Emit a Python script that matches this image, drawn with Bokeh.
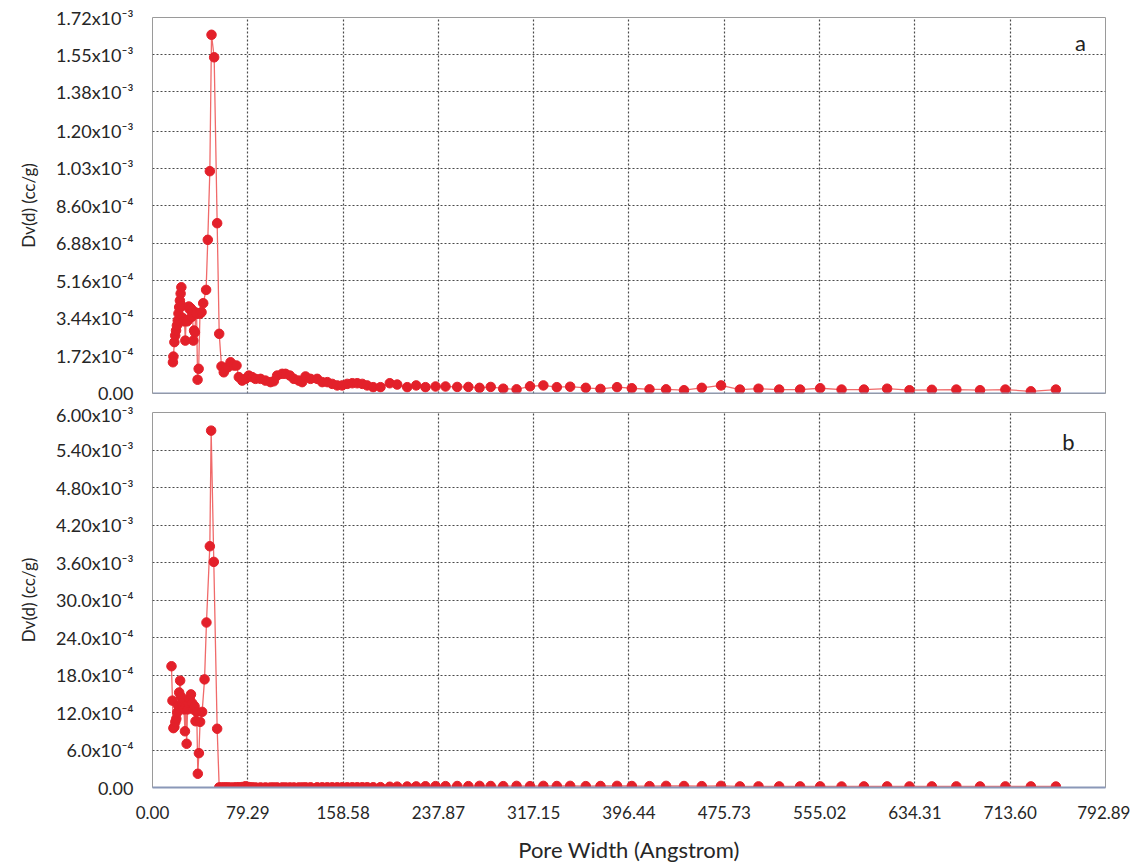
from bokeh.plotting import figure
from bokeh.layouts import column
from bokeh.models import Range1d, FixedTicker, Span, Label
from bokeh.embed import file_html
from bokeh.resources import INLINE

# ---------------- data ----------------
x_ticks = [0.00, 79.29, 158.58, 237.87, 317.15, 396.44, 475.73, 555.02, 634.31, 713.60, 792.89]
x_tick_labels = ["0.00", "79.29", "158.58", "237.87", "317.15", "396.44",
                 "475.73", "555.02", "634.31", "713.60", "792.89"]

a_y_ticks = [0.0, 1.72e-4, 3.44e-4, 5.16e-4, 6.88e-4, 8.60e-4, 1.03e-3, 1.20e-3, 1.38e-3, 1.55e-3, 1.72e-3]
a_y_tick_labels = ["0.00", "1.72x10⁻⁴", "3.44x10⁻⁴", "5.16x10⁻⁴", "6.88x10⁻⁴", "8.60x10⁻⁴",
                   "1.03x10⁻³", "1.20x10⁻³", "1.38x10⁻³", "1.55x10⁻³", "1.72x10⁻³"]

b_y_ticks = [0.0, 6.0e-4, 12.0e-4, 18.0e-4, 24.0e-4, 30.0e-4, 3.60e-3, 4.20e-3, 4.80e-3, 5.40e-3, 6.00e-3]
b_y_tick_labels = ["0.00", "6.0x10⁻⁴", "12.0x10⁻⁴", "18.0x10⁻⁴", "24.0x10⁻⁴", "30.0x10⁻⁴",
                   "3.60x10⁻³", "4.20x10⁻³", "4.80x10⁻³", "5.40x10⁻³", "6.00x10⁻³"]

# Panel a: pore width (Angstrom) and Dv(d) in units of 1e-3 cc/g
a_width = [17.0, 17.4, 18.2, 18.9, 19.6, 20.3, 21.0, 21.6, 22.2, 22.8,
           23.4, 24.0, 24.6, 25.2, 25.9, 26.6, 27.3, 28.0, 28.7, 29.4,
           30.2, 31.0, 31.8, 32.6, 33.3, 34.0, 34.6, 35.3, 36.0, 36.7,
           37.5, 38.4, 39.5, 40.8, 42.2, 44.6, 46.0, 47.7, 49.1, 51.3,
           53.8, 55.5,
           57.4, 59.3, 61.0, 62.7, 64.9, 67.7, 69.9, 71.8, 74.6, 77.4,
           80.1, 82.9, 85.7, 89.9, 94.0, 98.2, 100.9, 103.7, 107.9, 110.7,
           114.3, 117.6, 121.7, 124.5, 127.3, 131.5, 137.0, 141.2, 145.4, 149.5,
           153.7, 157.8, 162.0, 166.2, 170.3, 174.5, 178.6, 183.6, 189.7, 197.4,
           203.6, 211.9, 219.4, 227.1, 235.5, 243.8,
           253.5, 262.8, 272.1, 281.4, 291.8, 302.9, 314.1, 325.2, 336.4, 347.5,
           360.5, 372.7, 386.5, 398.8, 413.5, 427.3, 442.2, 457.0, 473.0, 488.7,
           504.2, 521.4, 538.8, 555.5, 573.3, 591.9, 611.2, 629.8, 648.4, 668.8,
           688.5, 709.6, 730.8, 751.6]
a_dv_e3 = [0.143, 0.169, 0.235, 0.265, 0.288, 0.311, 0.334, 0.366, 0.395, 0.425,
           0.457, 0.486, 0.400, 0.345, 0.330, 0.334, 0.242, 0.335, 0.330, 0.335,
           0.398, 0.385, 0.390, 0.350, 0.380, 0.242, 0.288, 0.280, 0.370, 0.365,
           0.063, 0.113, 0.365, 0.372, 0.413, 0.474, 0.703, 1.017, 1.641, 1.538,
           0.779, 0.273,
           0.124, 0.097, 0.115, 0.120, 0.143, 0.128, 0.128, 0.075, 0.059, 0.067,
           0.082, 0.075, 0.067, 0.067, 0.059, 0.052, 0.056, 0.082, 0.090, 0.090,
           0.082, 0.067, 0.059, 0.052, 0.078, 0.067, 0.067, 0.052, 0.052, 0.044,
           0.037, 0.037, 0.044, 0.047, 0.047, 0.044, 0.037, 0.029, 0.029, 0.047,
           0.041, 0.029, 0.037, 0.029, 0.032, 0.032,
           0.030, 0.030, 0.026, 0.030, 0.022, 0.019, 0.033, 0.037, 0.029, 0.031,
           0.026, 0.021, 0.029, 0.024, 0.019, 0.019, 0.015, 0.026, 0.037, 0.018,
           0.022, 0.018, 0.018, 0.024, 0.018, 0.018, 0.022, 0.015, 0.017, 0.018,
           0.015, 0.018, 0.010, 0.018]

# Panel b
b_width = [15.8, 16.6, 17.4, 18.2, 19.0, 19.8, 20.6, 21.4, 22.2, 23.0,
           23.8, 24.6, 25.4, 26.2, 27.0, 27.8, 28.4, 29.2, 30.0, 31.0,
           32.0, 33.0, 34.0, 35.0, 35.8, 36.8, 37.7, 38.6, 39.6, 41.3,
           43.3, 44.9, 47.7, 48.8, 51.0, 53.8, 55.5,
           57.4, 59.3, 61.0, 62.7, 64.9, 67.7, 69.9, 71.8, 74.6, 77.4,
           80.1, 82.9, 85.7, 89.9, 94.0, 98.2, 100.9, 103.7, 107.9, 110.7,
           114.3, 117.6, 121.7, 124.5, 127.3, 131.5, 137.0, 141.2, 145.4, 149.5,
           153.7, 157.8, 162.0, 166.2, 170.3, 174.5, 178.6, 183.6, 189.7, 197.4,
           203.6, 211.9, 219.4, 227.1, 235.5, 243.8,
           253.5, 262.8, 272.1, 281.4, 291.8, 302.9, 314.1, 325.2, 336.4, 347.5,
           360.5, 372.7, 386.5, 398.8, 413.5, 427.3, 442.2, 457.0, 473.0, 488.7,
           504.2, 521.4, 538.8, 555.5, 573.3, 591.9, 611.2, 629.8, 648.4, 668.8,
           688.5, 709.6, 730.8, 751.6]
b_dv_e3 = [1.94, 1.39, 0.95, 0.97, 1.05, 1.10, 1.20, 1.31, 1.52, 1.71,
           1.45, 1.35, 1.30, 1.25, 0.90, 1.30, 0.70, 1.25, 1.35, 1.42,
           1.49, 1.35, 1.25, 1.30, 1.06, 1.21, 0.22, 0.55, 1.05, 1.21,
           1.73, 2.64, 3.86, 5.71, 3.61, 0.94, 0.002,
           0.002, 0.002, 0.002, 0.002, 0.002, 0.002, 0.003, 0.004, 0.008, 0.020,
           0.008, 0.003, 0.002, 0.002, 0.002, 0.002, 0.002, 0.002, 0.002, 0.002,
           0.002, 0.002, 0.002, 0.002, 0.003, 0.003, 0.003, 0.003, 0.003, 0.003,
           0.003, 0.003, 0.003, 0.004, 0.004, 0.004, 0.004, 0.004, 0.006, 0.012,
           0.014, 0.016, 0.018, 0.020, 0.022, 0.022,
           0.024, 0.022, 0.026, 0.024, 0.022, 0.026, 0.022, 0.026, 0.024, 0.026,
           0.022, 0.024, 0.026, 0.024, 0.022, 0.026, 0.024, 0.022, 0.026, 0.018,
           0.018, 0.018, 0.018, 0.018, 0.016, 0.018, 0.018, 0.017, 0.018, 0.018,
           0.017, 0.018, 0.018, 0.016]

a_dv = [v * 1e-3 for v in a_dv_e3]
b_dv = [v * 1e-3 for v in b_dv_e3]

# ---------------- style ----------------
FONT = "Lato"
TEXT = "#262626"
RED = "#e3202a"
LINE = "#f06a6a"
GRID = "#4a4a4a"
AXIS_BLUE = "#8a98b8"
W = 1130


def make_panel(height, top, bottom, y_max, yt, ytl, xs, ys, letter, lx, ly):
    p = figure(width=W, height=height, output_backend="svg", toolbar_location=None,
               x_range=Range1d(0, 792.89), y_range=Range1d(0, y_max),
               min_border_left=152, min_border_right=25,
               min_border_top=top, min_border_bottom=bottom,
               background_fill_color="white", border_fill_color="white",
               outline_line_color="#9a9a9a", outline_line_width=1)
    p.xaxis.ticker = FixedTicker(ticks=x_ticks)
    p.xaxis.major_label_overrides = dict(zip(x_ticks, x_tick_labels))
    p.yaxis.ticker = FixedTicker(ticks=yt)
    p.yaxis.major_label_overrides = dict(zip(yt, ytl))
    for ax in (p.xaxis[0], p.yaxis[0]):
        ax.major_tick_line_color = None
        ax.minor_tick_line_color = None
        ax.major_label_text_font = FONT
        ax.major_label_text_color = TEXT
        ax.axis_label_text_font = FONT
        ax.axis_label_text_font_style = "normal"
        ax.axis_label_text_color = TEXT
    p.xaxis.major_label_text_font_size = "17px"
    p.yaxis.major_label_text_font_size = "18px"
    p.yaxis.axis_line_color = None
    p.yaxis.major_label_standoff = 13
    p.yaxis.axis_label = "Dv(d) (cc/g)"
    p.yaxis.axis_label_text_font_size = "17px"
    p.yaxis.axis_label_standoff = 14
    for g in (p.xgrid[0], p.ygrid[0]):
        g.grid_line_color = GRID
        g.grid_line_dash = "2 2"
        g.grid_line_width = 1.2
    p.line(xs, ys, line_color=LINE, line_width=1.3)
    p.scatter(xs, ys, size=9.5, fill_color=RED, line_color=RED)
    p.add_layout(Label(x=lx, y=ly, text=letter, text_font=FONT, text_font_size="22px",
                       text_color="#222222", text_align="center", text_baseline="middle"))
    return p


pa = make_panel(403, 17, 10, 1.72e-3, a_y_ticks, a_y_tick_labels, a_width, a_dv,
                "a", 772, 1.606e-3)
pa.xaxis.visible = False
pa.add_layout(Span(location=0, dimension="width", line_color=AXIS_BLUE, line_width=2))

pb = make_panel(462, 9, 76, 6.0e-3, b_y_ticks, b_y_tick_labels, b_width, b_dv,
                "b", 762, 5.54e-3)
pb.xaxis.axis_line_color = AXIS_BLUE
pb.xaxis.axis_line_width = 2
pb.xaxis.major_label_standoff = 12
pb.xaxis.axis_label = "Pore Width (Angstrom)"
pb.xaxis.axis_label_text_font_size = "22px"
pb.xaxis.axis_label_standoff = 14

layout = column(pa, pb, spacing=0)
open("out.html", "w").write(file_html(layout, INLINE))
